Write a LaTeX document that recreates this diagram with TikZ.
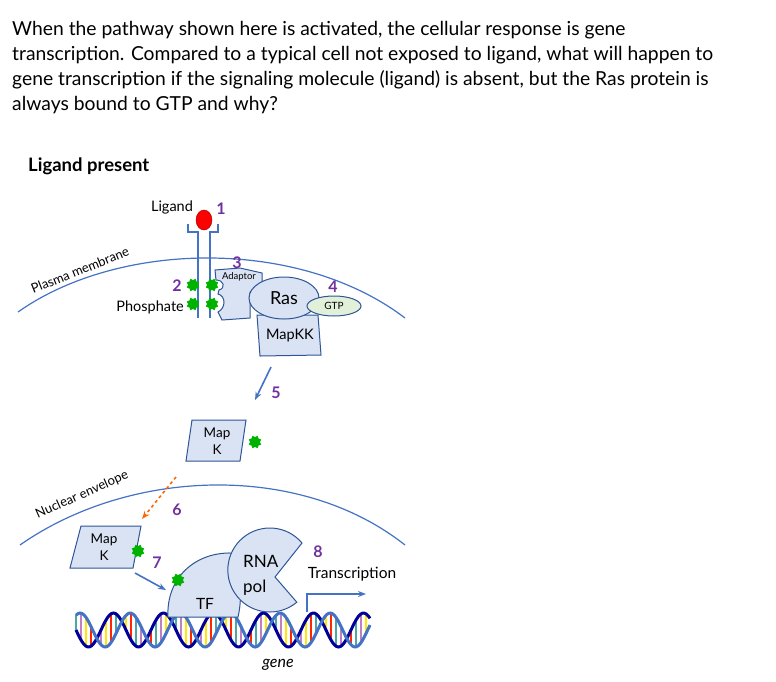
\documentclass[tikz,border=0pt]{standalone}
\usepackage{fontspec}
\setmainfont{Lato}
\usetikzlibrary{shapes.geometric,arrows.meta}
\definecolor{lineblue}{HTML}{4472C4}
\definecolor{protfill}{HTML}{DAE3F3}
\definecolor{protline}{HTML}{2F5597}
\definecolor{numpurple}{HTML}{7030A0}
\definecolor{gtpfill}{HTML}{E2F0D9}
\begin{document}
\begin{tikzpicture}[x=1pt,y=-1pt,
  memb/.style={draw=lineblue, line width=1.2pt},
  prot/.style={draw=protline, fill=protfill, line width=1pt},
  phos/.style={star, star points=8, star point ratio=0.75, fill=green!70!black, minimum size=10pt, inner sep=0pt},
  num/.style={text=numpurple, font=\bfseries\fontsize{16}{16}\selectfont},
  lbl/.style={font=\fontsize{14.5}{14.5}\selectfont, inner sep=0pt},
  bluearr/.style={draw=lineblue, line width=1.6pt, -{Stealth[length=8pt]}}]
\useasboundingbox (0,0) rectangle (776,681);
\node[anchor=north west, align=left, font=\fontsize{19.3}{25}\selectfont, inner sep=0pt] (q) at (12,21)
 {When the pathway shown here is activated, the cellular response is gene\\
 transcription. Compared to a typical cell not exposed to ligand, what will happen to\\
 gene transcription if the signaling molecule (ligand) is absent, but the Ras protein is\\
 always bound to GTP and why?};
\node[anchor=west, font=\bfseries\fontsize{18.5}{18.5}\selectfont, inner sep=0pt] (lp) at (28,166) {Ligand present};
% membranes
\draw[memb] (18,312) .. controls (120,240) and (300,238) .. (405,318);
\node[rotate=22, font=\fontsize{13}{13}\selectfont] (pm) at (80,270) {Plasma membrane};
\draw[memb] (20,545) .. controls (130,468) and (300,462) .. (405,545);
\node[rotate=24, font=\fontsize{13}{13}\selectfont] (ne) at (82,495) {Nuclear envelope};
% receptor
\draw[memb] (188,224) -- (188,232) -- (198,232) -- (198,318);
\draw[memb] (218,224) -- (218,232) -- (210,232) -- (210,318);
\node[ellipse, fill=red, draw=red!60!black, minimum width=16pt, minimum height=20pt, inner sep=0pt] (lig) at (204,220) {};
\node[lbl] (ligl) at (172,207) {Ligand};
\node[num] (n1) at (221,209) {1};
% adaptor
\draw[prot] (215,270) -- (240,268) -- (262,273) -- (262,285) -- (250,292) -- (250,318) -- (222,320) -- (218,312) .. controls (226,308) and (226,296) .. (218,294) -- (219,290) .. controls (226,288) and (224,280) .. (216,280) -- cycle;
\node[font=\fontsize{9.5}{9.5}\selectfont] (ad) at (239,277) {Adaptor};
\node[num] (n3) at (237,263) {3};
% MapKK
\draw[prot] (257,315) -- (318,315) -- (321,355) -- (260,356) -- cycle;
\node[lbl] (mkk) at (290,336) {MapKK};
% Ras
\node[prot, ellipse, minimum width=70pt, minimum height=42pt] (ras) at (284,298) {};
\node[font=\fontsize{18}{18}\selectfont] at (284,298) {Ras};
\node[ellipse, draw=protline, fill=gtpfill, line width=1pt, minimum width=54pt, minimum height=20pt, inner sep=0pt, font=\fontsize{10}{10}\selectfont] (gtp) at (334,306) {GTP};
\node[num] (n4) at (333,287) {4};
% phosphates
\node[phos] (p1) at (193,285) {};
\node[phos] (p2) at (193,304) {};
\node[phos] (p3) at (212,285) {};
\node[phos] (p4) at (212,304) {};
\node[num] (n2) at (177,286) {2};
\node[lbl, anchor=east] (ph) at (184,307) {Phosphate};
% arrow 5
\coordinate (a5s) at (271,367);
\coordinate (a5e) at (255,400);
\draw[bluearr] (a5s) -- (a5e);
\node[num] (n5) at (276,393) {5};
% MapK cytoplasm
\draw[prot] (192,420) -- (246,420) -- (240,461) -- (186,461) -- cycle;
\node[lbl, align=center, font=\fontsize{13.5}{17}\selectfont] (mk1) at (217,441) {Map\\K};
\node[phos] (p5) at (255,442) {};
% arrow 6
\coordinate (a6s) at (176,477);
\coordinate (a6e) at (142,519);
\draw[draw=orange!80!red, dashed, line width=1.6pt, -{Stealth[length=8pt]}] (a6s) -- (a6e);
\node[num] (n6) at (177,510) {6};
% MapK nucleus
\draw[prot] (81,526) -- (141,526) -- (133,568) -- (70,568) -- cycle;
\node[lbl, align=center, font=\fontsize{13.5}{17}\selectfont] (mk2) at (104,547) {Map\\K};
\node[phos] (p6) at (138,551) {};
\node[num] (n7) at (157,563) {7};
\coordinate (a7s) at (135,573);
\coordinate (a7e) at (166,590);
\draw[bluearr] (a7s) -- (a7e);
% DNA
\begin{scope}
\foreach \x [count=\i] in {76,81,...,370}{
  \pgfmathsetmacro{\ya}{630+17*sin(7.2*(\x-76))}
  \pgfmathsetmacro{\yb}{630-17*sin(7.2*(\x-76)+60)}
  \pgfmathtruncatemacro{\c}{mod(\i,4)}
  \ifcase\c \def\col{red!70!orange}\or\def\col{teal!70}\or\def\col{violet!50}\or\def\col{yellow!90!orange}\fi
  \draw[\col, line width=2.4pt] (\x,\ya) -- (\x,\yb);
}
\draw[blue!60!black, line width=3pt, domain=76:370, samples=150, smooth] plot (\x,{630+17*sin(7.2*(\x-76))});
\draw[lineblue, line width=3pt, domain=76:370, samples=150, smooth] plot (\x,{630-17*sin(7.2*(\x-76)+60)});
\end{scope}
\node[font=\itshape\fontsize{16}{16}\selectfont] (gene) at (278,665) {gene};
% TF
\draw[prot] (168,617) .. controls (166,578) and (195,552) .. (232,553) .. controls (242,575) and (242,600) .. (238,617) -- cycle;
\node[phos] (p7) at (178,580) {};
\node[lbl, font=\fontsize{15.5}{15.5}\selectfont] (tf) at (205,604) {TF};
% RNA pol
\draw[prot] (302,543) arc[start angle=-40, end angle=-310, radius=42] -- (275,577) -- cycle;
\node[lbl, font=\fontsize{17}{17}\selectfont, anchor=west] (rna) at (243,561) {RNA};
\node[lbl, font=\fontsize{17}{17}\selectfont, anchor=west] (pol) at (243,588) {pol};
\node[num] (n8) at (318,552) {8};
\node[lbl, font=\fontsize{15.5}{15.5}\selectfont] (tr) at (352,574) {Transcription};
\coordinate (ts) at (307,612);
\coordinate (te) at (366,594);
\draw[draw=lineblue, line width=1.6pt, -{Stealth[length=8pt]}] (ts) |- (te);
\end{tikzpicture}
\end{document}
